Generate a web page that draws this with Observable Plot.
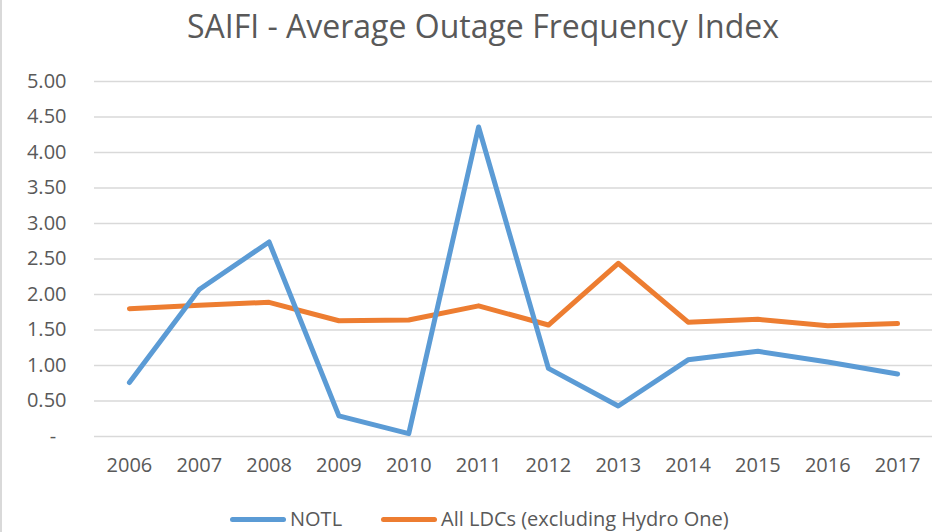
<!DOCTYPE html>
<html>
<head>
<meta charset="utf-8">
<script src="https://cdn.jsdelivr.net/npm/d3@7"></script>
<script src="https://cdn.jsdelivr.net/npm/@observablehq/plot@0.6"></script>
<style>
  html, body { margin: 0; padding: 0; background: #fff; }
  #wrap { position: relative; width: 933px; height: 532px; overflow: hidden; font-family: "Open Sans", sans-serif; color: #595959; }
  #border { position: absolute; left: 0; top: 0; width: 2px; height: 532px; background: #d9d9d9; }
  #title { position: absolute; left: 0; top: 4px; width: 966px; text-align: center; font-size: 32px; line-height: 44px; color: #595959; }
  #chart { position: absolute; left: 0; top: 58px; }
  #legend { position: absolute; top: 505px; left: 0; width: 933px; height: 28px; font-size: 20px; }
  .item { position: absolute; top: 0; height: 28px; line-height: 28px; white-space: nowrap; }
  .swatch { display: inline-block; width: 56px; height: 5px; border-radius: 3px; vertical-align: middle; margin-right: 4px; position: relative; top: -1px; }
</style>
</head>
<body>
<div id="wrap">
  <div id="border"></div>
  <div id="title">SAIFI - Average Outage Frequency Index</div>
  <div id="chart"></div>
  <div id="legend"></div>
</div>
<script>
const years = ["2006","2007","2008","2009","2010","2011","2012","2013","2014","2015","2016","2017"];
const notl = [0.76, 2.07, 2.74, 0.29, 0.04, 4.36, 0.96, 0.43, 1.08, 1.20, 1.05, 0.88];
const ldcs = [1.80, 1.85, 1.89, 1.63, 1.64, 1.84, 1.57, 2.44, 1.61, 1.65, 1.56, 1.59];
const seriesNames = ["NOTL", "All LDCs (excluding Hydro One)"];
const seriesColors = ["#5b9bd5", "#ed7d31"];
const yTicks = [0, 0.5, 1, 1.5, 2, 2.5, 3, 3.5, 4, 4.5, 5];

const rows = [];
years.forEach((y, i) => rows.push({year: y, value: ldcs[i], series: seriesNames[1]}));
years.forEach((y, i) => rows.push({year: y, value: notl[i], series: seriesNames[0]}));

const chart = Plot.plot({
  width: 933,
  height: 420,
  marginLeft: 94,
  marginRight: 1,
  marginTop: 23,
  marginBottom: 42,
  style: {fontFamily: "Open Sans, sans-serif", fontSize: "20px", color: "#595959", background: "transparent"},
  x: {type: "point", domain: years, padding: 0.5, round: false, label: null},
  y: {domain: [0, 5], label: null},
  color: {domain: seriesNames, range: seriesColors},
  marks: [
    Plot.ruleY(yTicks, {stroke: "#d9d9d9", strokeWidth: 1.5}),
    Plot.axisY({ticks: yTicks, tickSize: 0, tickPadding: 28, label: null,
      tickFormat: d => d === 0 ? "-\u00a0\u00a0" : d.toFixed(2), fill: "#595959"}),
    Plot.axisX({tickSize: 0, tickPadding: 21, label: null, fill: "#595959"}),
    Plot.line(rows.filter(r => r.series === seriesNames[1]), {x: "year", y: "value", stroke: "series", strokeWidth: 5, strokeLinejoin: "round", strokeLinecap: "round"}),
    Plot.line(rows.filter(r => r.series === seriesNames[0]), {x: "year", y: "value", stroke: "series", strokeWidth: 5, strokeLinejoin: "round", strokeLinecap: "round"})
  ]
});
document.getElementById("chart").appendChild(chart);

const legend = document.getElementById("legend");
const lefts = [230, 381];
seriesNames.forEach((name, i) => {
  const item = document.createElement("div");
  item.className = "item";
  item.style.left = lefts[i] + "px";
  const sw = document.createElement("span");
  sw.className = "swatch";
  sw.style.background = seriesColors[i];
  item.appendChild(sw);
  item.appendChild(document.createTextNode(name));
  legend.appendChild(item);
});
</script>
</body>
</html>
